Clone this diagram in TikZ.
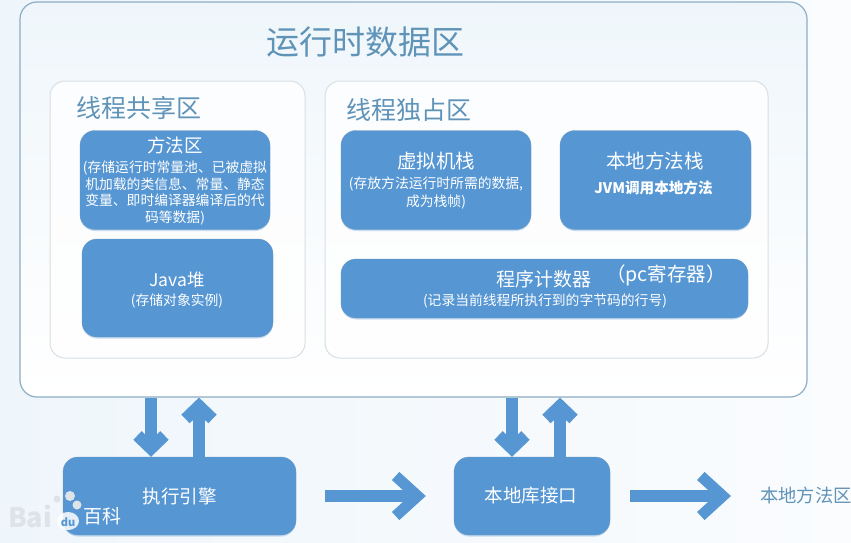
\documentclass[tikz,border=0pt]{standalone}
\usepackage{fontspec}
\usepackage{xcolor}
\setmainfont{Noto Sans CJK SC}
\usetikzlibrary{arrows.meta,shadows}
\definecolor{BgLeft}{HTML}{EFF6FB}
\definecolor{BgRight}{HTML}{FAFCFE}
\definecolor{AreaEdge}{HTML}{8DADC4}
\definecolor{PanelEdge}{HTML}{DADFE3}
\definecolor{BoxFill}{HTML}{5596D3}
\definecolor{TitleText}{HTML}{5F93B8}
\definecolor{MarkGrey}{HTML}{DDE3E8}

\tikzset{
  bluebox/.style={draw=BoxFill!85!black!80, line width=.4pt, fill=BoxFill, rounded corners=15pt, inner sep=0pt,
    general shadow={shadow xshift=0pt, shadow yshift=-1.5pt, fill=BoxFill, opacity=.3}},
  panel/.style={draw=PanelEdge, line width=1pt, fill=white, fill opacity=.75, rounded corners=15pt, inner sep=0pt},
  heading/.style={text=TitleText, inner sep=0pt},
  boxhead/.style={text=white, inner sep=0pt, font=\fontsize{18.5}{22}\selectfont},
  boxnote/.style={text=white, inner sep=0pt, align=center, font=\fontsize{13.8}{16.8}\selectfont},
  flow/.style={draw=BoxFill, line width=12pt, -{Straight Barb[length=13pt, width=27pt, line width=12pt]}},
  longflow/.style={draw=BoxFill, line width=12pt, -{Straight Barb[length=22pt, width=40pt, line width=11pt]}}
}

\begin{document}
\begin{tikzpicture}[x=1pt, y=-1pt]
  \useasboundingbox (0,0) rectangle (851,543);

  % Hintergrund
  \shade[left color=BgLeft, right color=BgRight] (0,0) rectangle (851,543);

  % Bereiche
  \node[draw=AreaEdge, line width=1.2pt, top color=BgLeft, bottom color=white, rounded corners=17pt, inner sep=0pt,
    minimum width=787pt, minimum height=395pt] (runtime) at (413.5,199.5) {};
  \node[panel, minimum width=255pt, minimum height=277pt] (shared) at (177.5,219.5) {};
  \node[panel, minimum width=443pt, minimum height=277pt] (exclusive) at (546.5,219.5) {};

  % Titel
  \node[heading, font=\fontsize{33}{36}\selectfont] (runtimetitle) at (365,42) {运行时数据区};
  \node[heading, font=\fontsize{25}{28}\selectfont] (sharedtitle) at (138.5,108) {线程共享区};
  \node[heading, font=\fontsize{25}{28}\selectfont] (exclusivetitle) at (409,110) {线程独占区};

  % Blaue Felder
  \node[bluebox, minimum width=190pt, minimum height=99pt] (methodarea) at (175,180) {};
  \node[bluebox, minimum width=191pt, minimum height=98pt] (heap) at (177.5,288) {};
  \node[bluebox, minimum width=190pt, minimum height=99pt] (vmstack) at (436,180) {};
  \node[bluebox, minimum width=191pt, minimum height=99pt] (nativestack) at (655.5,180) {};
  \node[bluebox, minimum width=407pt, minimum height=59pt] (counter) at (544.5,288.5) {};
  \node[bluebox, minimum width=233pt, minimum height=78pt] (engine) at (179.5,496) {};
  \node[bluebox, minimum width=156pt, minimum height=78pt] (nativeiface) at (532,496) {};

  % Beschriftung der Felder
  \node[boxhead] (methodhead) at (175,145) {方法区};
  \node[boxnote] (methodnote) at (175,193) {(存储运行时常量池、已被虚拟\\机加载的类信息、常量、静态\\变量、即时编译器编译后的代\\码等数据)};
  \node[boxhead, font=\fontsize{17.5}{20}\selectfont] (heaphead) at (177,280) {Java堆};
  \node[boxnote] (heapnote) at (177,301) {(存储对象实例)};
  \node[boxhead, font=\fontsize{19.5}{22}\selectfont] (vmhead) at (436,161) {虚拟机栈};
  \node[boxnote] (vmnote) at (436,193) {(存放方法运行时所需的数据,\\[1pt]成为栈帧)};
  \node[boxhead, font=\fontsize{19.5}{22}\selectfont] (nativehead) at (655,161) {本地方法栈};
  \node[boxnote, font=\fontsize{14.6}{16}\bfseries\selectfont] (nativenote) at (653.5,188) {JVM调用本地方法};
  \node[boxhead, font=\fontsize{19}{22}\selectfont, anchor=west] (counterhead) at (496,279) {程序计数器};
  \node[boxhead, font=\fontsize{19.5}{22}\selectfont, anchor=west] (pchead) at (606,275) {（pc寄存器）};
  \node[boxnote] (counternote) at (545,301) {(记录当前线程所执行到的字节码的行号)};
  \node[boxhead] (enginehead) at (179.5,496) {执行引擎};
  \node[boxhead] (ifacehead) at (531,496) {本地库接口};

  % Pfeile
  \coordinate (downA) at (151,0);
  \coordinate (upA) at (199,0);
  \coordinate (downB) at (512,0);
  \coordinate (upB) at (560,0);
  \draw[flow] (runtime.south -| downA) -- (engine.north -| downA);
  \draw[flow] (engine.north -| upA) -- (runtime.south -| upA);
  \draw[flow] (runtime.south -| downB) -- (nativeiface.north -| downB);
  \draw[flow] (nativeiface.north -| upB) -- (runtime.south -| upB);

  \node[text=TitleText, inner sep=0pt, anchor=west, font=\fontsize{18.3}{22}\selectfont] (nativearea) at (760,496) {本地方法区};
  \draw[longflow, shorten <=29pt, shorten >=28pt] (engine.east) -- (nativeiface.west);
  \draw[longflow, shorten <=20pt, shorten >=29pt] (nativeiface.east) -- (nativearea.west);

  % Wasserzeichen
  \fill[MarkGrey] (70,496) circle (5pt) (77,505) circle (4.5pt) (57,499) circle (3.5pt);
  \fill[white, opacity=.85] (68,521) ellipse (11pt and 9pt);
  \node[text=MarkGrey, inner sep=0pt, font=\fontsize{27}{28}\bfseries\selectfont] (markbai) at (30,516) {Bai};
  \node[text=BoxFill, inner sep=0pt, font=\fontsize{11}{12}\bfseries\selectfont] (markdu) at (68,522) {du};
  \node[text=white, inner sep=0pt, font=\fontsize{19}{22}\selectfont] (markbaike) at (102,516) {百科};
\end{tikzpicture}
\end{document}
